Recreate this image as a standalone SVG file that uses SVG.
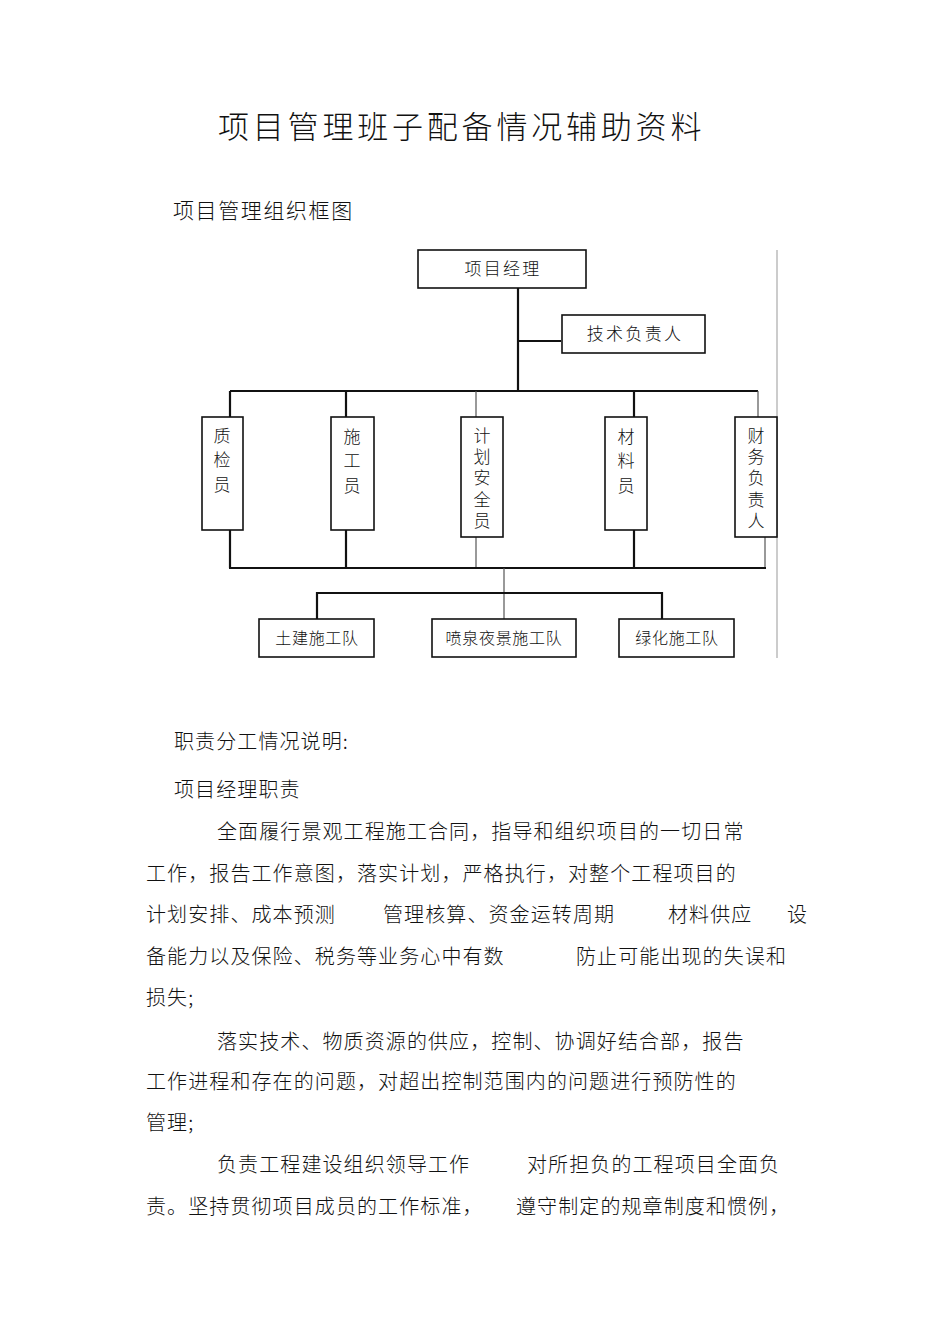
<svg xmlns="http://www.w3.org/2000/svg" width="950" height="1344" viewBox="0 0 950 1344">
<style>
text{font-family:"Noto Sans CJK SC","Noto Sans CJK JP",sans-serif;fill:#111;font-weight:300}
.title{font-size:31px;letter-spacing:3.8px}
.sub{font-size:21px;letter-spacing:1.6px}
.body{font-size:20px;letter-spacing:1.1px}
.lbl{font-size:17px;letter-spacing:2.3px;text-anchor:middle}
.v3{font-size:17px;writing-mode:vertical-rl;letter-spacing:7.5px}
.v5{font-size:17px;writing-mode:vertical-rl;letter-spacing:4.2px}
.bl{font-size:16px;letter-spacing:0.7px;text-anchor:middle}
.box{fill:#fff;stroke:#111;stroke-width:1.6}
.thick{stroke:#111;stroke-width:2.2;fill:none}
.thin{stroke:#555;stroke-width:1.2;fill:none}
.edge{stroke:#aaa;stroke-width:1.2;fill:none}
</style>
<rect width="950" height="1344" fill="#fff"/>
<text class="title" x="218" y="138">项目管理班子配备情况辅助资料</text>
<text class="sub" x="173" y="218">项目管理组织框图</text>

<g id="connectors">
<line class="edge" x1="777" y1="250" x2="777" y2="658"/>
<line class="thick" x1="518" y1="288" x2="518" y2="391"/>
<line class="thick" x1="518" y1="341" x2="561" y2="341"/>
<line class="thick" x1="230" y1="391" x2="758" y2="391"/>
<line class="thick" x1="230" y1="391" x2="230" y2="417"/>
<line class="thick" x1="346" y1="391" x2="346" y2="417"/>
<line class="thin" x1="476" y1="391" x2="476" y2="417"/>
<line class="thick" x1="634" y1="391" x2="634" y2="417"/>
<line class="thin" x1="758" y1="391" x2="758" y2="417"/>
<line class="thick" x1="230" y1="530" x2="230" y2="568"/>
<line class="thick" x1="346" y1="530" x2="346" y2="568"/>
<line class="thin" x1="476" y1="537" x2="476" y2="568"/>
<line class="thick" x1="634" y1="530" x2="634" y2="568"/>
<line class="thin" x1="765" y1="537" x2="765" y2="568"/>
<line class="thick" x1="229" y1="568" x2="766" y2="568"/>
<line class="thin" x1="504" y1="568" x2="504" y2="619"/>
<line class="thick" x1="316" y1="593" x2="663" y2="593"/>
<line class="thick" x1="317" y1="592" x2="317" y2="619"/>
<line class="thick" x1="662" y1="592" x2="662" y2="619"/>
</g>

<g id="pm"><rect class="box" x="418" y="250" width="168" height="38"/><text class="lbl" x="503" y="275">项目经理</text></g>
<g id="tech"><rect class="box" x="562" y="315" width="143" height="38"/><text class="lbl" x="635" y="340">技术负责人</text></g>

<g id="qc"><rect class="box" x="202" y="417" width="41" height="113"/><text class="v3" x="222" y="427">质检员</text></g>
<g id="cons"><rect class="box" x="331" y="417" width="43" height="113"/><text class="v3" x="352" y="428">施工员</text></g>
<g id="plan"><rect class="box" x="461" y="417" width="42" height="120"/><text class="v5" x="482" y="427">计划安全员</text></g>
<g id="mat"><rect class="box" x="605" y="417" width="42" height="113"/><text class="v3" x="626" y="428">材料员</text></g>
<g id="fin"><rect class="box" x="735" y="417" width="42" height="120"/><text class="v5" x="756" y="427">财务负责人</text></g>

<g id="civil"><rect class="box" x="259" y="619" width="115" height="38"/><text class="bl" x="317" y="644">土建施工队</text></g>
<g id="fountain"><rect class="box" x="432" y="619" width="144" height="38"/><text class="bl" x="504" y="644">喷泉夜景施工队</text></g>
<g id="green"><rect class="box" x="619" y="619" width="115" height="38"/><text class="bl" x="677" y="644">绿化施工队</text></g>

<text class="body" x="174" y="749">职责分工情况说明:</text>
<text class="body" x="174" y="797">项目经理职责</text>
<text class="body" x="217" y="839">全面履行景观工程施工合同，指导和组织项目的一切日常</text>
<text class="body" x="146" y="881">工作，报告工作意图，落实计划，严格执行，对整个工程项目的</text>
<text class="body" x="146" y="922">计划安排、成本预测</text>
<text class="body" x="383" y="922">管理核算、资金运转周期</text>
<text class="body" x="668" y="922">材料供应</text>
<text class="body" x="787" y="922">设</text>
<text class="body" x="146" y="964">备能力以及保险、税务等业务心中有数</text>
<text class="body" x="576" y="964">防止可能出现的失误和</text>
<text class="body" x="146" y="1005">损失;</text>
<text class="body" x="217" y="1049">落实技术、物质资源的供应，控制、协调好结合部，报告</text>
<text class="body" x="146" y="1089">工作进程和存在的问题，对超出控制范围内的问题进行预防性的</text>
<text class="body" x="146" y="1130">管理;</text>
<text class="body" x="217" y="1172">负责工程建设组织领导工作</text>
<text class="body" x="527" y="1172">对所担负的工程项目全面负</text>
<text class="body" x="146" y="1214">责。坚持贯彻项目成员的工作标准，</text>
<text class="body" x="516" y="1214">遵守制定的规章制度和惯例，</text>
</svg>
